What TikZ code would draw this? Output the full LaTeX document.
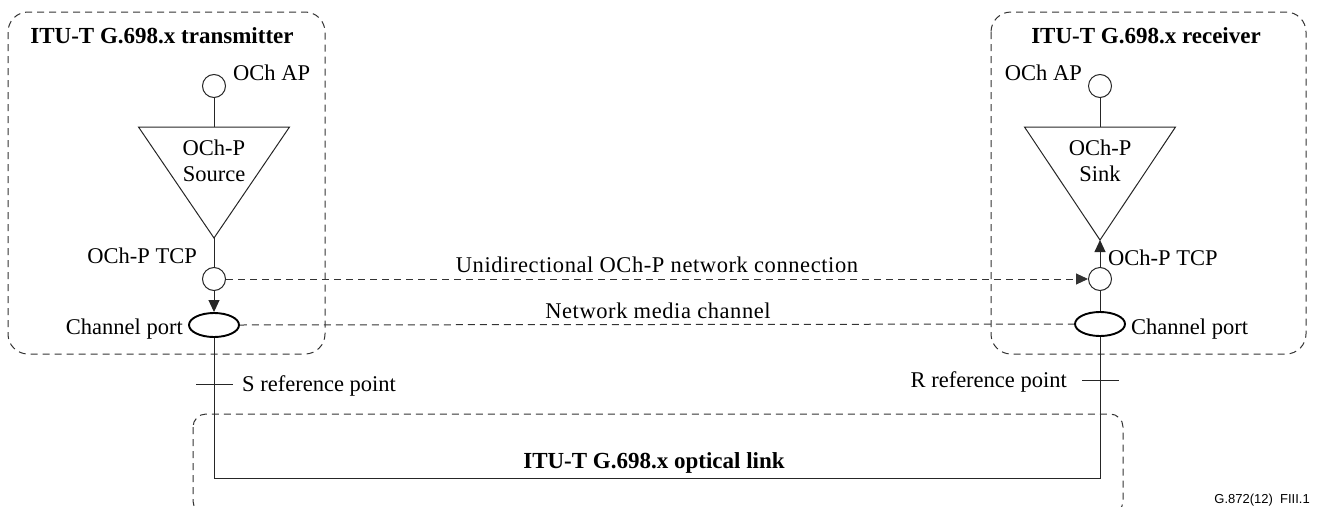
\documentclass[tikz,border=0pt]{standalone}
\usepackage{fontspec}
\setmainfont{Liberation Serif}
\newfontfamily\capfont{Liberation Sans}
\newfontfamily\widefont[LetterSpace=2.6]{Liberation Serif}
\usetikzlibrary{arrows.meta,shapes.geometric}
\tikzset{
  ln/.style={draw=black!85, line width=1pt},
  dsh/.style={draw=black!80, line width=1pt, dash pattern=on 7pt off 5pt},
  grp/.style={dsh, rounded corners=20pt},
  ap/.style={circle, ln, minimum size=23pt, inner sep=0pt},
  chport/.style={ellipse, draw=black, line width=1.9pt, minimum width=50pt, minimum height=24pt, inner sep=0pt},
  lbl/.style={inner sep=0pt, font=\fontsize{22.5}{26}\selectfont},
  wlbl/.style={inner sep=0pt, font=\widefont\fontsize{22.5}{26}\selectfont},
  ttl/.style={inner sep=0pt, font=\fontsize{23}{26}\selectfont\bfseries},
  tip/.style={-{Triangle[length=12pt,width=11pt]}},
}
\begin{document}
\begin{tikzpicture}[x=1pt,y=-1pt]
\useasboundingbox (0,0) rectangle (1319,506);

% grouping boxes
\draw[grp] (8,12) rectangle (325,354);
\draw[grp] (991,12) rectangle (1306,354);
\draw[dsh, rounded corners=13pt] (193,414) rectangle (1123,514);

\node[ttl, anchor=base] (ttx) at (162,43) {ITU-T G.698.x transmitter};
\node[ttl, anchor=base] (trx) at (1146,43) {ITU-T G.698.x receiver};

% transmitter side
\node[ap] (apL) at (214,86) {};
\node[lbl, anchor=base west] (apLt) at (233,80) {OCh AP};
\coordinate (srcTop) at (214,127);
\coordinate (srcApex) at (214,238);
\draw[ln, line join=miter] (138.5,127) -- (289.5,127) -- (srcApex) -- cycle;
\node[lbl, align=center] (src) at (214,161) {OCh-P\\Source};
\node[ap] (tcpL) at (214,279) {};
\node[lbl, anchor=base east] (tcpLt) at (197,263) {OCh-P TCP};
\node[chport] (chL) at (214,325) {};
\node[lbl, anchor=base east] (chLt) at (183,334) {Channel port};

% receiver side
\node[ap] (apR) at (1100,86) {};
\node[lbl, anchor=base east] (apRt) at (1082,80) {OCh AP};
\coordinate (snkTop) at (1100,127);
\coordinate (snkApex) at (1100,240);
\draw[ln, line join=miter] (1024.5,127) -- (1175.5,127) -- (snkApex) -- cycle;
\node[lbl, align=center] (snk) at (1100,161) {OCh-P\\Sink};
\node[ap] (tcpR) at (1100,279) {};
\node[lbl, anchor=base west] (tcpRt) at (1108,265) {OCh-P TCP};
\node[chport] (chR) at (1100,324) {};
\node[lbl, anchor=base west] (chRt) at (1131,334) {Channel port};

% vertical connections
\draw[ln] (apL.south) -- (srcTop);
\draw[ln] (srcApex) -- (tcpL.north);
\draw[ln, tip] (tcpL.south) -- (chL.north);
\draw[ln] (apR.south) -- (snkTop);
\draw[ln, tip] (tcpR.north) -- (snkApex);
\draw[ln] (tcpR.south) -- (chR.north);

% optical link
\coordinate (lkL) at (214,478);
\coordinate (lkR) at (1100,478);
\draw[ln] (chL.south) -- (lkL) -- (lkR) -- (chR.south);
\node[ttl, anchor=base] (lk) at (654,468) {ITU-T G.698.x optical link};

% reference points
\coordinate (sref) at (214,384);
\coordinate (rref) at (1100,380);
\draw[ln] ([xshift=-18pt]sref) -- ([xshift=19pt]sref);
\draw[ln] ([xshift=-18pt]rref) -- ([xshift=19pt]rref);
\node[lbl, anchor=base west] (sreft) at (242,391) {S reference point};
\node[lbl, anchor=base east] (rreft) at (1067,387) {R reference point};

% network connection and media channel
\draw[dsh, tip] (tcpL.east) -- (tcpR.west);
\node[wlbl, anchor=base] (unit) at (657,272) {Unidirectional OCh-P network connection};
\draw[dsh] (chL.east) -- (chR.west);
\node[wlbl, anchor=base] (nmct) at (658,318) {Network media channel};

\node[anchor=base east, inner sep=0pt, font=\capfont\fontsize{13}{15}\selectfont] (cap) at (1310,503) {G.872(12)\ \ FIII.1};
\end{tikzpicture}
\end{document}
